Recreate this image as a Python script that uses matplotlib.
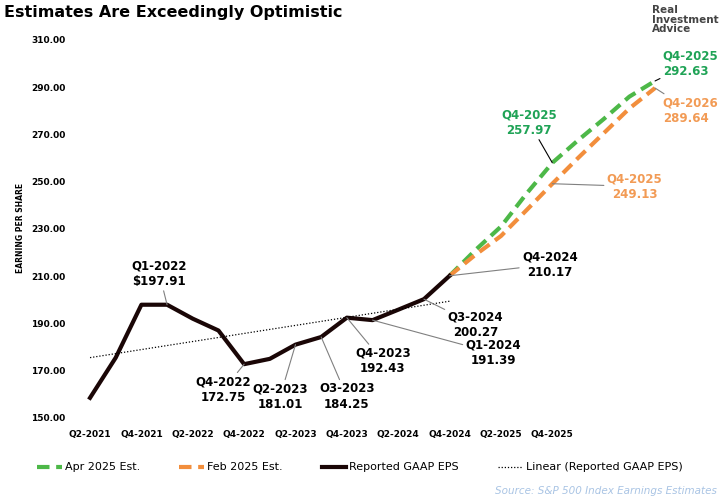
import matplotlib.pyplot as plt
import numpy as np

# quarters Q2-2021 ... Q4-2026
quarters = ['Q2-2021', 'Q3-2021', 'Q4-2021', 'Q1-2022', 'Q2-2022', 'Q3-2022', 'Q4-2022',
            'Q1-2023', 'Q2-2023', 'Q3-2023', 'Q4-2023', 'Q1-2024', 'Q2-2024', 'Q3-2024',
            'Q4-2024', 'Q1-2025', 'Q2-2025', 'Q3-2025', 'Q4-2025', 'Q1-2026', 'Q2-2026',
            'Q3-2026', 'Q4-2026']
reported = [158.5, 175.5, 197.91, 197.91, 192.0, 187.0, 172.75, 175.0, 181.01, 184.25,
            192.43, 191.39, 195.8, 200.27, 210.17]
apr_est = [210.17, 221.0, 231.0, 245.0, 257.97, 267.5, 276.5, 286.0, 292.63]
feb_est = [210.17, 219.0, 227.0, 238.0, 249.13, 260.0, 270.5, 281.0, 289.64]
tick_labels = ['Q2-2021', 'Q4-2021', 'Q2-2022', 'Q4-2022', 'Q2-2023', 'Q4-2023',
               'Q2-2024', 'Q4-2024', 'Q2-2025', 'Q4-2025']
yticks = [150, 170, 190, 210, 230, 250, 270, 290, 310]

green = '#4db848'
orange = '#f28e3c'
green_txt = '#1fa356'
orange_txt = '#f29b55'

fig = plt.figure(figsize=(7.2, 5), dpi=100)
ax = fig.add_axes([70/720, 0.15, 630/720, 0.79])

x_rep = np.arange(len(reported))
x_est = np.arange(len(reported) - 1, len(quarters))

ax.plot(x_est, apr_est, color=green, lw=3, ls=(0, (3, 1.6)), label='Apr 2025 Est.')
ax.plot(x_est, feb_est, color=orange, lw=3, ls=(0, (3, 1.6)), label='Feb 2025 Est.')
ax.plot(x_rep, reported, color='#1a0606', lw=3, label='Reported GAAP EPS')
slope, icpt = np.polyfit(x_rep, reported, 1)
ax.plot(x_rep, slope * x_rep + icpt, color='black', lw=0.9, ls=(0, (1, 1.5)),
        label='Linear (Reported GAAP EPS)')

ax.set_xlim(-0.78, 23.75)
ax.set_ylim(147, 314.2)
ax.set_yticks(yticks)
ax.set_yticklabels([f'{v:.2f}' for v in yticks], fontsize=6.5, fontweight='bold')
ax.set_xticks([quarters.index(t) for t in tick_labels])
ax.set_xticklabels(tick_labels, fontsize=6.5, fontweight='bold')
ax.tick_params(length=0)
for s in ax.spines.values():
    s.set_visible(False)
ax.set_ylabel('EARNING PER SHARE', fontsize=5.5, fontweight='bold')


def note(i, y, text, tx, ty, color='black', lc='gray', ha='center'):
    ax.annotate(text, xy=(i, y), xytext=(tx, ty), fontsize=8.5, fontweight='bold',
                color=color, ha=ha, va='center', linespacing=1.25,
                arrowprops=dict(arrowstyle='-', color=lc, lw=0.8, shrinkA=0, shrinkB=0))


note(3, 197.91, 'Q1-2022\n$197.91', 2.7, 211)
note(6, 172.75, 'Q4-2022\n172.75', 5.2, 162)
note(8, 181.01, 'Q2-2023\n181.01', 7.4, 159)
note(9, 184.25, 'O3-2023\n184.25', 10.0, 159)
note(10, 192.43, 'Q4-2023\n192.43', 11.4, 174)
note(11, 191.39, 'Q1-2024\n191.39', 15.7, 177.5)
note(13, 200.27, 'Q3-2024\n200.27', 15.0, 189.5)
note(14, 210.17, 'Q4-2024\n210.17', 17.9, 215)
note(18, 257.97, 'Q4-2025\n257.97', 17.1, 275, color=green_txt, lc='black')
note(18, 249.13, 'Q4-2025\n249.13', 21.2, 248, color=orange_txt)
note(22, 292.63, 'Q4-2025\n292.63', 22.3, 300, color=green_txt, lc='black', ha='left')
note(22, 289.64, 'Q4-2026\n289.64', 22.3, 280, color=orange_txt, ha='left')

fig.legend(loc='lower center', bbox_to_anchor=(0.5, 0.035), ncol=4, frameon=False,
           fontsize=8, handlelength=2.2, columnspacing=3.5, handletextpad=0.3)
fig.text(0.006, 0.975, 'Estimates Are Exceedingly Optimistic', fontsize=11.5,
         fontweight='bold', va='center')
fig.text(0.905, 0.99, 'Real\nInvestment\nAdvice', fontsize=7.5, fontweight='bold',
         color='#444444', va='top', linespacing=0.95)
fig.text(0.995, 0.012, 'Source: S&P 500 Index Earnings Estimates', fontsize=7.5,
         style='italic', color='#a9c4e4', ha='right')

fig.savefig('out.png', dpi=100)
